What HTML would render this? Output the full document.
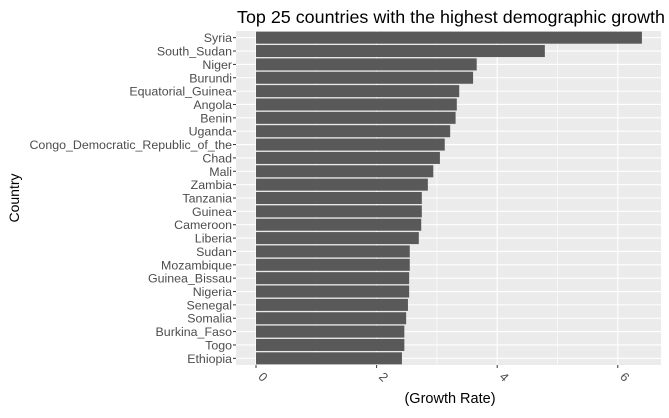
<!DOCTYPE html>
<html><head><meta charset="utf-8"><style>
body{margin:0;background:#fff;font-family:"Liberation Sans",Arial,sans-serif}
svg text{font-family:"Liberation Sans",Arial,sans-serif}
</style></head><body>
<svg id="c" width="669" height="413" xmlns="http://www.w3.org/2000/svg">
<text x="237" y="23" font-size="17.5" fill="#000" textLength="428" lengthAdjust="spacingAndGlyphs">Top 25 countries with the highest demographic growth</text>
<text x="450" y="403" font-size="14.5" fill="#000" text-anchor="middle">(Growth Rate)</text>
<text transform="translate(19,198) rotate(-90)" font-size="14" fill="#000" text-anchor="middle">Country</text>
<g id="g"></g>
</svg>
<script>
const countries=["Syria","South_Sudan","Niger","Burundi","Equatorial_Guinea","Angola","Benin","Uganda","Congo_Democratic_Republic_of_the","Chad","Mali","Zambia","Tanzania","Guinea","Cameroon","Liberia","Sudan","Mozambique","Guinea_Bissau","Nigeria","Senegal","Somalia","Burkina_Faso","Togo","Ethiopia"];
const growth=[6.40,4.79,3.66,3.60,3.37,3.33,3.31,3.22,3.13,3.05,2.94,2.85,2.75,2.75,2.74,2.70,2.55,2.55,2.54,2.54,2.52,2.49,2.46,2.46,2.42];
const xTicks=[0,2,4,6];
const NS="http://www.w3.org/2000/svg";
const g=document.getElementById('g');
const L=236,R=661,T=31,B=365;
const x=v=>256+v*60.3;
const step=(B-T)/countries.length;
const y=i=>T+step*(i+0.5);
function mk(t,a,p){const e=document.createElementNS(NS,t);for(const k in a)e.setAttribute(k,a[k]);(p||g).appendChild(e);return e;}
const bg=mk('rect',{x:L,y:T,width:R-L,height:B-T,fill:'#ebebeb'});


for(let i=0;i<xTicks.length-1;i++){const m=(xTicks[i]+xTicks[i+1])/2;const l=mk('line',{x1:x(m),x2:x(m),y1:T,y2:B,stroke:'#fff','stroke-width':0.6});

}
xTicks.forEach(v=>{const l=mk('line',{x1:x(v),x2:x(v),y1:T,y2:B,stroke:'#fff','stroke-width':1.1});


const tk=mk('line',{x1:x(v),x2:x(v),y1:B,y2:B+3,stroke:'#333'});


const t=mk('text',{transform:`translate(${x(v)+4},${B+15}) rotate(45)`,'font-size':12.5,fill:'#4d4d4d','text-anchor':'middle'});
t.textContent=v;

});
countries.forEach((c,i)=>{const l=mk('line',{x1:L,x2:R,y1:y(i),y2:y(i),stroke:'#fff','stroke-width':1.1});

});
countries.forEach((c,i)=>{const h=step*0.9;
const r=mk('rect',{x:x(0),y:y(i)-h/2,width:x(growth[i])-x(0),height:h,fill:'#595959'});


const tk=mk('line',{x1:L-3,x2:L,y1:y(i),y2:y(i),stroke:'#333'});


const t=mk('text',{x:L-4,y:y(i)+4.5,'font-size':12.4,fill:'#4d4d4d','text-anchor':'end'});
t.textContent=c;

});
</script>
</body></html>
